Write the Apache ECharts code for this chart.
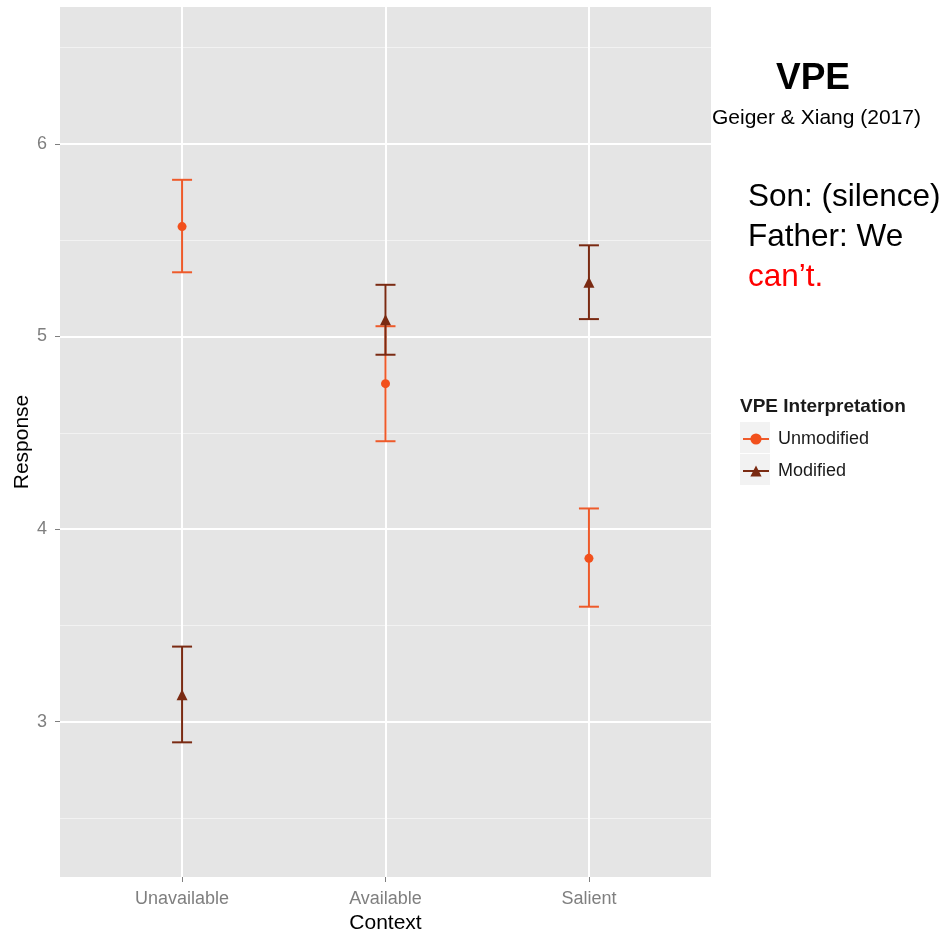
<!DOCTYPE html>
<html>
<head>
<meta charset="utf-8">
<script src="https://cdn.jsdelivr.net/npm/echarts@6/dist/echarts.min.js"></script>
<style>
html,body{margin:0;padding:0;background:#fff;}
#chart{width:949px;height:932px;}
</style>
</head>
<body>
<div id="chart"></div>
<script>
// ---- data ----
const contexts = ['Unavailable', 'Available', 'Salient'];
const unmodMean = [5.57, 4.755, 3.848];
const unmodLow  = [5.333, 4.456, 3.597];
const unmodHigh = [5.813, 5.053, 4.107];
const modMean = [3.14, 5.087, 5.281];
const modLow  = [2.893, 4.905, 5.09];
const modHigh = [3.39, 5.268, 5.473];
const yMajor = [3, 4, 5, 6];
const yMinor = [2.5, 3.5, 4.5, 5.5, 6.5];

const colUnmod = '#ee5a2a';
const colUnmodPt = '#f2501c';
const colMod = '#7a2a12';

const chart = echarts.init(document.getElementById('chart'));
const font = 'Liberation Sans, Arial, Helvetica, sans-serif';

function errData(low, high) {
  return contexts.map((c, i) => [i + 1, low[i], high[i]]);
}
function ptData(mean) {
  return contexts.map((c, i) => [i + 1, mean[i]]);
}
function makeErr(color) {
  return function (params, api) {
    const x = api.value(0), lo = api.value(1), hi = api.value(2);
    const pLo = api.coord([x, lo]), pHi = api.coord([x, hi]);
    const hw = 10;
    const style = { stroke: color, lineWidth: 2 };
    return {
      type: 'group',
      children: [
        { type: 'line', shape: { x1: pLo[0], y1: pLo[1], x2: pHi[0], y2: pHi[1] }, style: style },
        { type: 'line', shape: { x1: pLo[0] - hw, y1: pLo[1], x2: pLo[0] + hw, y2: pLo[1] }, style: style },
        { type: 'line', shape: { x1: pHi[0] - hw, y1: pHi[1], x2: pHi[0] + hw, y2: pHi[1] }, style: style }
      ]
    };
  };
}

const option = {
  animation: false,
  backgroundColor: '#ffffff',
  textStyle: { fontFamily: font },
  grid: {
    left: 60, top: 7, width: 651, height: 870,
    containLabel: false, outerBoundsMode: 'none',
    show: true, backgroundColor: '#e5e5e5', borderWidth: 0
  },
  xAxis: {
    type: 'value', min: 0.4, max: 3.6,
    name: 'Context', nameLocation: 'middle', nameGap: 36, nameMoveOverlap: false,
    nameTextStyle: { color: '#000', fontSize: 21, fontFamily: font },
    axisLine: { show: false },
    axisTick: { show: true, length: 5, lineStyle: { color: '#7f7f7f', width: 1 }, customValues: [1, 2, 3] },
    axisLabel: {
      customValues: [1, 2, 3], margin: 13, color: '#7f7f7f', fontSize: 18, fontFamily: font,
      formatter: v => contexts[Math.round(v) - 1] || ''
    },
    splitLine: { show: true, lineStyle: { color: '#ffffff', width: 2 } }
  },
  yAxis: [{
    type: 'value', min: 2.194, max: 6.71,
    name: 'Response', nameLocation: 'middle', nameGap: 27, nameRotate: 90, nameMoveOverlap: false,
    nameTextStyle: { color: '#000', fontSize: 21, fontFamily: font },
    axisLine: { show: false },
    axisTick: { show: true, length: 5, lineStyle: { color: '#7f7f7f', width: 1 }, customValues: yMajor },
    axisLabel: { customValues: yMajor, margin: 13, color: '#7f7f7f', fontSize: 18, fontFamily: font },
    splitLine: { show: true, lineStyle: { color: '#ffffff', width: 2 } }
  }, {
    type: 'value', min: 2.194, max: 6.71, position: 'left',
    axisLine: { show: false },
    axisTick: { show: false, customValues: yMinor },
    axisLabel: { show: false, customValues: yMinor },
    splitLine: { show: true, lineStyle: { color: '#f2f2f2', width: 1 } }
  }],
  legend: {
    left: 742, top: 429, orient: 'vertical', itemGap: 12, padding: 0,
    itemWidth: 26, itemHeight: 14,
    textStyle: { color: '#1a1a1a', fontSize: 18, lineHeight: 20, fontFamily: font, padding: [0, 0, 0, 4] },
    lineStyle: { width: 2, opacity: 1 },
    data: ['Unmodified', 'Modified']
  },
  graphic: [
    { type: 'rect', left: 740, top: 422, shape: { width: 30, height: 31 }, style: { fill: '#f2f2f2' }, z: -1 },
    { type: 'rect', left: 740, top: 454, shape: { width: 30, height: 31 }, style: { fill: '#f2f2f2' }, z: -1 },
    { type: 'text', left: 740, top: 397, style: { text: 'VPE Interpretation', fill: '#1a1a1a', font: 'bold 19px ' + font } },
    { type: 'text', left: 776, top: 60, style: { text: 'VPE', fill: '#000', font: 'bold 37px ' + font } },
    { type: 'text', left: 712, top: 108, style: { text: 'Geiger & Xiang (2017)', fill: '#000', font: '21px ' + font } },
    { type: 'text', left: 748, top: 181, style: { text: 'Son: (silence)', fill: '#000', font: '31.5px ' + font } },
    { type: 'text', left: 748, top: 221, style: { text: 'Father: We', fill: '#000', font: '31.5px ' + font } },
    { type: 'text', left: 748, top: 261, style: { text: 'can\u2019t.', fill: '#ff0000', font: '31.5px ' + font } }
  ],
  series: [
    {
      type: 'custom', name: 'errUnmod', renderItem: makeErr(colUnmod),
      data: errData(unmodLow, unmodHigh), encode: { x: 0, y: [1, 2] }, z: 2, silent: true
    },
    {
      type: 'custom', name: 'errMod', renderItem: makeErr(colMod),
      data: errData(modLow, modHigh), encode: { x: 0, y: [1, 2] }, z: 3, silent: true
    },
    {
      type: 'line', name: 'Unmodified', data: ptData(unmodMean),
      color: colUnmod,
      symbol: 'circle', symbolSize: 9,
      itemStyle: { color: colUnmodPt },
      lineStyle: { width: 0, opacity: 0, color: colUnmod },
      z: 4
    },
    {
      type: 'line', name: 'Modified', data: ptData(modMean),
      color: colMod,
      symbol: 'triangle', symbolSize: 11,
      itemStyle: { color: colMod },
      lineStyle: { width: 0, opacity: 0, color: colMod },
      z: 5
    }
  ]
};
chart.setOption(option);
</script>
</body>
</html>
